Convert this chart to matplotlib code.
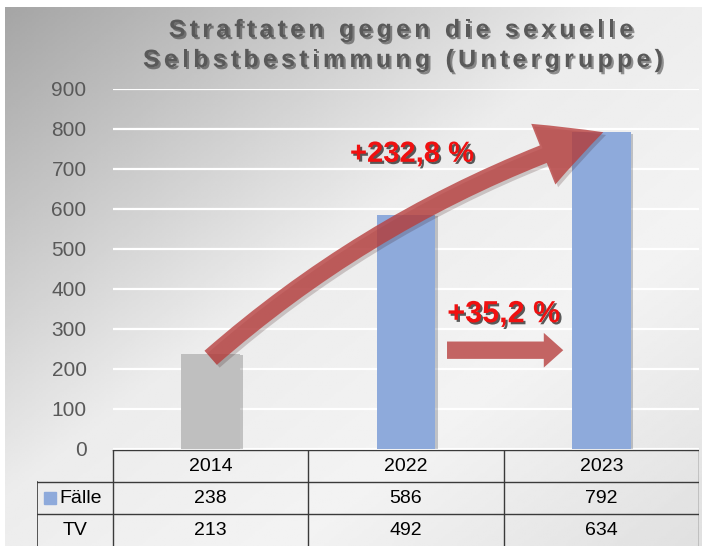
import numpy as np
import matplotlib
matplotlib.use('Agg')
import matplotlib.pyplot as plt
import matplotlib.patheffects as pe
from matplotlib.patches import FancyArrowPatch
from matplotlib.textpath import TextToPath
from matplotlib.font_manager import FontProperties

plt.rcParams['font.family'] = ['Liberation Sans', 'DejaVu Sans']

# data
years = ['2014', '2022', '2023']
faelle = [238, 586, 792]
tv = [213, 492, 634]
bar_colors = ['#bfbfbf', '#8eaadb', '#8eaadb']
title_lines = ['Straftaten gegen die sexuelle', 'Selbstbestimmung (Untergruppe)']
pct_total = '+232,8 %'
pct_last = '+35,2 %'

W, H = 702, 546
fig = plt.figure(figsize=(W / 100, H / 100), dpi=100)
fig.patch.set_facecolor('white')

# grauer Verlauf als Hintergrund
bg = fig.add_axes([5 / W, 0, 1 - 5 / W, 1 - 7 / H], zorder=-5)
xx, yy = np.meshgrid(np.linspace(0, 1, 300), np.linspace(0, 1, 240))
d = (xx + yy) / 2
v = np.interp(d, [0, 0.45, 0.7, 1], [165, 236, 243, 224]) / 255
bg.imshow(v, cmap='gray', vmin=0, vmax=1, aspect='auto', extent=[0, 1, 0, 1], origin='upper')
bg.axis('off')

# Hauptdiagramm
ax = fig.add_axes([113 / W, (H - 449) / H, 586 / W, 360 / H])
ax.patch.set_alpha(0)
x = np.arange(len(years))
bars = ax.bar(x, faelle, width=0.3, color=bar_colors, zorder=3)
for b in bars:
    b.set_path_effects([pe.SimplePatchShadow(offset=(2, -1), alpha=0.25), pe.Normal()])
ax.set_xlim(-0.5, 2.5)
ax.set_ylim(0, 900)
ax.set_yticks(range(0, 1000, 100))
ax.yaxis.grid(True, color='white', lw=1.6, zorder=1)
ax.set_axisbelow(True)
ax.set_xticks([])
ax.tick_params(axis='y', length=0, pad=19, labelsize=15, labelcolor='#595959')
for s in ax.spines.values():
    s.set_visible(False)

arrow_col = '#b8403f'
big = FancyArrowPatch((0, 228), (2.01, 792), connectionstyle='arc3,rad=-0.1',
                      arrowstyle='simple,head_length=4.6,head_width=4.7,tail_width=1.35',
                      mutation_scale=10, color=arrow_col, alpha=0.8, lw=0, zorder=5,
                      shrinkA=0, shrinkB=0)
big.set_path_effects([pe.SimplePatchShadow(offset=(2, -2), alpha=0.2), pe.Normal()])
ax.add_patch(big)
small = FancyArrowPatch((1.21, 247), (1.805, 247), arrowstyle='simple,head_length=1.4,head_width=2.5,tail_width=1.25',
                        mutation_scale=10, color=arrow_col, alpha=0.8, lw=0, zorder=5,
                        shrinkA=0, shrinkB=0)
ax.add_patch(small)

red_fx = [pe.withSimplePatchShadow(offset=(1.5, -1.5), shadow_rgbFace='#333333', alpha=0.8)]
ax.text(1.03, 738, pct_total, ha='center', va='center', fontsize=21, fontweight='bold',
        color='#f01010', path_effects=red_fx, zorder=6)
ax.text(1.5, 337, pct_last, ha='center', va='center', fontsize=22, fontweight='bold',
        color='#f01010', path_effects=red_fx, zorder=6)

# Titel mit Sperrung
fp = FontProperties(family='Liberation Sans', weight='bold', size=18)
ttp = TextToPath()


def ink_w(s):
    return ttp.get_text_width_height_descent(s, fp, ismath=False)[0] * 100 / 72


sp = (520 - ink_w(title_lines[1])) / (len(title_lines[1]) - 1)
for line, xc, yb in zip(title_lines, [401, 403], [37, 67]):
    total = ink_w(line) + (len(line) - 1) * sp
    x0 = xc - total / 2
    for i, ch in enumerate(line):
        if ch == ' ':
            continue
        left = ink_w(line[:i + 1]) - ink_w(ch)
        fig.text((x0 + left + i * sp) / W, 1 - yb / H, ch, fontproperties=fp, color='#595959',
                 ha='left', va='baseline',
                 path_effects=[pe.withSimplePatchShadow(offset=(1.5, -1.5), shadow_rgbFace='k', alpha=0.4)])

# Datentabelle
tab = fig.add_axes([37 / W, 0, (699 - 37) / W, 96 / H])
left_edge = -0.5 - 76 / 195.33
tab.set_xlim(left_edge, 2.5)
tab.set_ylim(3, 0)
tab.axis('off')
lc = '#3a3a3a'
tab.plot([-0.5, 2.5], [0, 0], color=lc, lw=1)
for yy_ in [1, 2]:
    tab.plot([left_edge, 2.5], [yy_, yy_], color=lc, lw=1)
for xv in [-0.5, 0.5, 1.5, 2.5]:
    tab.plot([xv, xv], [0, 3], color=lc, lw=1)
tab.plot([left_edge, left_edge], [1, 3], color=lc, lw=1.2)
for i in range(len(years)):
    tab.text(i, 0.52, years[i], ha='center', va='center', fontsize=14)
    tab.text(i, 1.52, str(faelle[i]), ha='center', va='center', fontsize=14)
    tab.text(i, 2.52, str(tv[i]), ha='center', va='center', fontsize=14)
tab.plot([-0.82], [1.5], marker='s', ms=8, color='#8eaadb', lw=0)
tab.text(-0.772, 1.52, 'Fälle', ha='left', va='center', fontsize=14)
tab.text((left_edge - 0.5) / 2, 2.52, 'TV', ha='center', va='center', fontsize=14)

fig.savefig('out.png', dpi=100)
